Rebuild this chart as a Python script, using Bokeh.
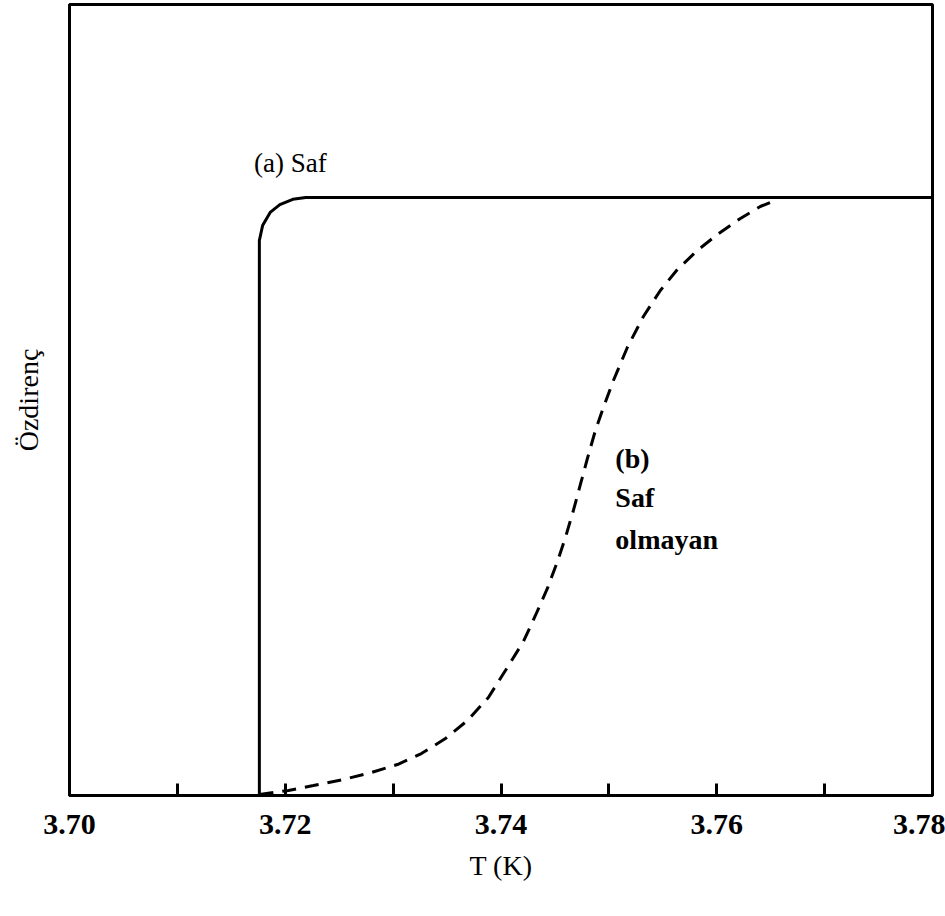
from bokeh.plotting import figure
from bokeh.models import Range1d, FixedTicker, Label
from bokeh.embed import file_html
from bokeh.resources import INLINE

# ---- data ----
# (a) pure sample: sharp drop at Tc
pure_T = [3.700, 3.7176, 3.7176, 3.7179, 3.7186, 3.7195, 3.7207, 3.7219, 3.780]
pure_rho = [0.0, 0.0, 0.928, 0.953, 0.975, 0.988, 0.997, 1.0, 1.0]

# (b) impure sample: broad transition
impure_T = [3.71761, 3.72030, 3.72261, 3.72539, 3.72799, 3.73040, 3.73262, 3.73485,
            3.73689, 3.73883, 3.74041, 3.74208, 3.74319, 3.74430, 3.74523, 3.74597,
            3.74671, 3.74736, 3.74801, 3.74875, 3.74949, 3.75042, 3.75171, 3.75320,
            3.75477, 3.75635, 3.75820, 3.76006, 3.76219, 3.76404, 3.76562]
impure_rho = [0.0017, 0.0084, 0.0167, 0.0268, 0.0385, 0.0518, 0.0702, 0.0953,
              0.1254, 0.1639, 0.2090, 0.2575, 0.3010, 0.3462, 0.3913, 0.4314,
              0.4766, 0.5201, 0.5635, 0.6104, 0.6488, 0.6940, 0.7492, 0.8010,
              0.8445, 0.8796, 0.9114, 0.9381, 0.9649, 0.9849, 0.9967]

major_ticks = [3.70, 3.72, 3.74, 3.76, 3.78]
minor_ticks = [3.71, 3.73, 3.75, 3.77]
tick_labels = ["3.70", "3.72", "3.74", "3.76", "3.78"]

p = figure(width=945, height=916, output_backend="svg", toolbar_location=None,
           x_range=Range1d(3.70, 3.78), y_range=Range1d(0, 1.3227),
           min_border_left=69, min_border_right=13, min_border_top=4,
           min_border_bottom=121)

p.background_fill_color = "white"
p.border_fill_color = "white"
p.xgrid.visible = False
p.ygrid.visible = False
p.outline_line_color = "black"
p.outline_line_width = 3

serif = "'Liberation Serif', 'Times New Roman', serif"

# x axis
xa = p.xaxis[0]
xa.ticker = FixedTicker(ticks=major_ticks, minor_ticks=minor_ticks)
xa.major_label_overrides = {t: l for t, l in zip(major_ticks, tick_labels)}
xa.major_tick_in = 12
xa.major_tick_out = 0
xa.minor_tick_in = 12
xa.minor_tick_out = 0
xa.major_tick_line_width = 3
xa.minor_tick_line_width = 3
xa.axis_line_width = 3
xa.major_label_text_font = serif
xa.major_label_text_font_style = "bold"
xa.major_label_text_font_size = "30px"
xa.major_label_text_color = "black"
xa.major_label_standoff = 19
xa.axis_label = "T (K)"
xa.axis_label_text_font = serif
xa.axis_label_text_font_style = "normal"
xa.axis_label_text_font_size = "28px"
xa.axis_label_text_color = "black"
xa.axis_label_standoff = 13

# y axis
ya = p.yaxis[0]
ya.ticker = FixedTicker(ticks=[])
ya.major_tick_in = 0
ya.major_tick_out = 0
ya.minor_tick_in = 0
ya.minor_tick_out = 0
ya.axis_line_width = 3
ya.major_label_text_font_size = "0px"
ya.axis_label = "Özdirenç"
ya.axis_label_text_font = serif
ya.axis_label_text_font_style = "normal"
ya.axis_label_text_font_size = "28px"
ya.axis_label_text_color = "black"
ya.axis_label_standoff = 26

# curves
p.line(pure_T, pure_rho, line_color="black", line_width=3)
p.line(impure_T, impure_rho, line_color="black", line_width=3, line_dash="14 9")

# annotations
p.add_layout(Label(x=3.7171, y=1.057, text="(a) Saf", text_font=serif,
                   text_font_size="27px", text_color="black",
                   text_baseline="alphabetic"))
for txt, yy in [("(b)", 0.5635), ("Saf", 0.498), ("olmayan", 0.428)]:
    p.add_layout(Label(x=3.7506, y=yy, text=txt, text_font=serif,
                       text_font_style="bold", text_font_size="28px",
                       text_color="black", text_baseline="alphabetic"))

open("out.html", "w").write(file_html(p, INLINE))
